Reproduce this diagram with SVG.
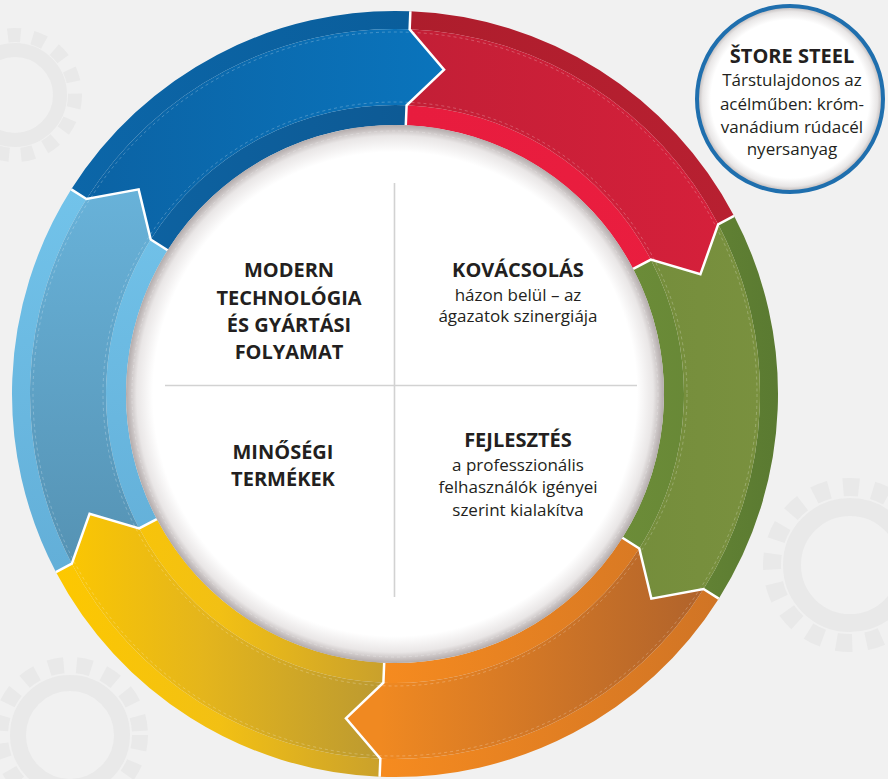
<svg xmlns="http://www.w3.org/2000/svg" width="888" height="779" viewBox="0 0 888 779">
<defs>
<style>
.bold{font-family:"Open Sans","Liberation Sans",sans-serif;font-weight:700;font-size:20px;fill:#231f20;text-anchor:middle}
.reg{font-family:"Open Sans","Liberation Sans",sans-serif;font-weight:400;font-size:17px;fill:#231f20;text-anchor:middle}
.cut{fill:none;stroke:#ffffff;stroke-width:2.5;stroke-linejoin:miter}
.dash{fill:none;stroke:#ffffff;stroke-opacity:0.3;stroke-width:0.8;stroke-dasharray:3 3}
.gear{fill:none;stroke:#e9e9e9}
</style>
<linearGradient id="redOuter" gradientUnits="userSpaceOnUse" x1="405" y1="0" x2="735" y2="0"><stop offset="0" stop-color="#ad1d2c"/><stop offset="1" stop-color="#b82031"/></linearGradient>
<linearGradient id="redMain" gradientUnits="userSpaceOnUse" x1="405" y1="0" x2="735" y2="0"><stop offset="0" stop-color="#c21f36"/><stop offset="1" stop-color="#d6203b"/></linearGradient>
<linearGradient id="redInner" gradientUnits="userSpaceOnUse" x1="405" y1="0" x2="735" y2="0"><stop offset="0" stop-color="#e81c3e"/><stop offset="1" stop-color="#ea1e3f"/></linearGradient>
<linearGradient id="greenOuter" gradientUnits="userSpaceOnUse" x1="620" y1="0" x2="780" y2="0"><stop offset="0" stop-color="#6a8a37"/><stop offset="1" stop-color="#5a7a31"/></linearGradient>
<linearGradient id="greenMain" gradientUnits="userSpaceOnUse" x1="620" y1="0" x2="780" y2="0"><stop offset="0" stop-color="#748d3b"/><stop offset="1" stop-color="#7a913f"/></linearGradient>
<linearGradient id="greenInner" gradientUnits="userSpaceOnUse" x1="620" y1="0" x2="780" y2="0"><stop offset="0" stop-color="#6c8c38"/><stop offset="1" stop-color="#638435"/></linearGradient>
<linearGradient id="orangeStrip" gradientUnits="userSpaceOnUse" x1="380" y1="0" x2="720" y2="0"><stop offset="0" stop-color="#f68b1f"/><stop offset="1" stop-color="#d07425"/></linearGradient>
<linearGradient id="orangeMain" gradientUnits="userSpaceOnUse" x1="380" y1="0" x2="720" y2="0"><stop offset="0" stop-color="#f08921"/><stop offset="1" stop-color="#ad612c"/></linearGradient>
<linearGradient id="yellowStrip" gradientUnits="userSpaceOnUse" x1="55" y1="0" x2="385" y2="0"><stop offset="0" stop-color="#fdc800"/><stop offset="0.5" stop-color="#f2c014"/><stop offset="1" stop-color="#c9a02c"/></linearGradient>
<linearGradient id="yellowMain" gradientUnits="userSpaceOnUse" x1="55" y1="0" x2="385" y2="0"><stop offset="0" stop-color="#fdc800"/><stop offset="0.45" stop-color="#e4b51c"/><stop offset="1" stop-color="#bb9931"/></linearGradient>
<linearGradient id="lblueStrip" gradientUnits="userSpaceOnUse" x1="0" y1="190" x2="0" y2="570"><stop offset="0" stop-color="#72c3ea"/><stop offset="1" stop-color="#63afd8"/></linearGradient>
<linearGradient id="lblueMain" gradientUnits="userSpaceOnUse" x1="0" y1="190" x2="0" y2="570"><stop offset="0" stop-color="#68b2d9"/><stop offset="1" stop-color="#5592b3"/></linearGradient>
<linearGradient id="dblueOuter" gradientUnits="userSpaceOnUse" x1="70" y1="0" x2="445" y2="0"><stop offset="0" stop-color="#0c66a8"/><stop offset="1" stop-color="#0a5d9a"/></linearGradient>
<linearGradient id="dblueMain" gradientUnits="userSpaceOnUse" x1="70" y1="0" x2="445" y2="0"><stop offset="0" stop-color="#0b62a3"/><stop offset="1" stop-color="#0a74bc"/></linearGradient>
<linearGradient id="dblueInner" gradientUnits="userSpaceOnUse" x1="70" y1="0" x2="445" y2="0"><stop offset="0" stop-color="#0d64a4"/><stop offset="1" stop-color="#0d5993"/></linearGradient>
<radialGradient id="innerDisc" gradientUnits="userSpaceOnUse" cx="395" cy="394" r="269"><stop offset="0" stop-color="#ffffff"/><stop offset="0.9" stop-color="#ffffff"/><stop offset="0.96" stop-color="#e9e6e6"/><stop offset="1" stop-color="#b3abab"/></radialGradient>
<radialGradient id="badge" gradientUnits="userSpaceOnUse" cx="790" cy="99" r="92"><stop offset="0" stop-color="#ffffff"/><stop offset="0.86" stop-color="#ffffff"/><stop offset="0.95" stop-color="#e8e6e6"/><stop offset="1" stop-color="#bfb9b9"/></radialGradient>
</defs>

<rect x="0" y="0" width="888" height="779" fill="#f1f1f1"/>

<g id="background-gears">
<circle class="gear" cx="850" cy="565" r="78" stroke-width="18" stroke-dasharray="16 14"/>
<circle class="gear" cx="850" cy="565" r="58" stroke-width="18"/>
<circle class="gear" cx="70" cy="735" r="70" stroke-width="16" stroke-dasharray="15 13"/>
<circle class="gear" cx="70" cy="735" r="52" stroke-width="16"/>
<circle class="gear" cx="15" cy="95" r="60" stroke-width="14" stroke-dasharray="13 12"/>
<circle class="gear" cx="15" cy="95" r="45" stroke-width="14"/>
</g>

<g id="seg-red">
<path fill="url(#redOuter)" d="M410.37,11.31 A383,383 0 0 1 734.10,215.96 L718.17,224.33 A365,365 0 0 0 409.65,29.30 Z"/>
<path fill="url(#redInner)" d="M406.60,105.23 A289,289 0 0 1 650.88,259.66 L633.17,268.96 A269,269 0 0 0 405.80,125.22 Z"/>
<path fill="url(#redMain)" d="M409.65,29.30 A365,365 0 0 1 718.17,224.33 L700.40,274.31 L650.88,259.66 A289,289 0 0 0 406.60,105.23 L444.05,69.69 Z"/>
</g>
<g id="seg-green">
<path fill="url(#greenOuter)" d="M734.10,215.96 A383,383 0 0 1 718.74,598.66 L703.53,589.04 A365,365 0 0 0 718.17,224.33 Z"/>
<path fill="url(#greenInner)" d="M650.88,259.66 A289,289 0 0 1 639.29,548.43 L622.38,537.74 A269,269 0 0 0 633.17,268.96 Z"/>
<path fill="url(#greenMain)" d="M718.17,224.33 A365,365 0 0 1 703.53,589.04 L651.35,598.64 L639.29,548.43 A289,289 0 0 0 650.88,259.66 L700.40,274.31 Z"/>
</g>
<g id="seg-orange">
<path fill="url(#orangeStrip)" d="M718.74,598.66 A383,383 0 0 1 379.63,776.69 L380.35,758.70 A365,365 0 0 0 703.53,589.04 Z"/>
<path fill="url(#orangeStrip)" d="M639.29,548.43 A289,289 0 0 1 383.40,682.77 L384.20,662.78 A269,269 0 0 0 622.38,537.74 Z"/>
<path fill="url(#orangeMain)" d="M703.53,589.04 A365,365 0 0 1 380.35,758.70 L345.95,718.31 L383.40,682.77 A289,289 0 0 0 639.29,548.43 L651.35,598.64 Z"/>
</g>
<g id="seg-yellow">
<path fill="url(#yellowStrip)" d="M379.63,776.69 A383,383 0 0 1 55.90,572.04 L71.83,563.67 A365,365 0 0 0 380.35,758.70 Z"/>
<path fill="url(#yellowStrip)" d="M383.40,682.77 A289,289 0 0 1 139.12,528.34 L156.83,519.04 A269,269 0 0 0 384.20,662.78 Z"/>
<path fill="url(#yellowMain)" d="M380.35,758.70 A365,365 0 0 1 71.83,563.67 L89.60,513.69 L139.12,528.34 A289,289 0 0 0 383.40,682.77 L345.95,718.31 Z"/>
</g>
<g id="seg-lightblue">
<path fill="url(#lblueStrip)" d="M55.90,572.04 A383,383 0 0 1 71.26,189.34 L86.47,198.96 A365,365 0 0 0 71.83,563.67 Z"/>
<path fill="url(#lblueStrip)" d="M139.12,528.34 A289,289 0 0 1 150.71,239.57 L167.62,250.26 A269,269 0 0 0 156.83,519.04 Z"/>
<path fill="url(#lblueMain)" d="M71.83,563.67 A365,365 0 0 1 86.47,198.96 L138.65,189.36 L150.71,239.57 A289,289 0 0 0 139.12,528.34 L89.60,513.69 Z"/>
</g>
<g id="seg-darkblue">
<path fill="url(#dblueOuter)" d="M71.26,189.34 A383,383 0 0 1 410.37,11.31 L409.65,29.30 A365,365 0 0 0 86.47,198.96 Z"/>
<path fill="url(#dblueInner)" d="M150.71,239.57 A289,289 0 0 1 406.60,105.23 L405.80,125.22 A269,269 0 0 0 167.62,250.26 Z"/>
<path fill="url(#dblueMain)" d="M86.47,198.96 A365,365 0 0 1 409.65,29.30 L444.05,69.69 L406.60,105.23 A289,289 0 0 0 150.71,239.57 L138.65,189.36 Z"/>
</g>

<g id="ring-lines">
<circle class="dash" cx="395" cy="394" r="362"/>
<circle class="dash" cx="395" cy="394" r="292"/>
</g>

<g id="connectors">
<path class="cut" d="M410.37,11.31 L409.65,29.30 L444.05,69.69 L406.60,105.23 L405.80,125.22"/>
<path class="cut" d="M734.10,215.96 L718.17,224.33 L700.40,274.31 L650.88,259.66 L633.17,268.96"/>
<path class="cut" d="M718.74,598.66 L703.53,589.04 L651.35,598.64 L639.29,548.43 L622.38,537.74"/>
<path class="cut" d="M379.63,776.69 L380.35,758.70 L345.95,718.31 L383.40,682.77 L384.20,662.78"/>
<path class="cut" d="M55.90,572.04 L71.83,563.67 L89.60,513.69 L139.12,528.34 L156.83,519.04"/>
<path class="cut" d="M71.26,189.34 L86.47,198.96 L138.65,189.36 L150.71,239.57 L167.62,250.26"/>
</g>

<g id="center">
<circle cx="395" cy="394" r="269" fill="url(#innerDisc)"/>
<circle cx="395" cy="394" r="263" fill="none" stroke="#dedada" stroke-width="0.8" stroke-dasharray="3 3"/>
<line x1="394.5" y1="183" x2="394.5" y2="597" stroke="#d2d2d2" stroke-width="1.6"/>
<line x1="165" y1="385.5" x2="637" y2="385.5" stroke="#d2d2d2" stroke-width="1.6"/>
</g>

<g id="q-modern">
<text class="bold" x="289" y="277">MODERN</text>
<text class="bold" x="289" y="304.5">TECHNOLÓGIA</text>
<text class="bold" x="289" y="332">ÉS GYÁRTÁSI</text>
<text class="bold" x="289" y="359">FOLYAMAT</text>
</g>
<g id="q-kovacsolas">
<text class="bold" x="518" y="277">KOVÁCSOLÁS</text>
<text class="reg" x="518" y="301">házon belül – az</text>
<text class="reg" x="518" y="322">ágazatok szinergiája</text>
</g>
<g id="q-minosegi">
<text class="bold" x="283" y="459">MINŐSÉGI</text>
<text class="bold" x="283" y="486">TERMÉKEK</text>
</g>
<g id="q-fejlesztes">
<text class="bold" x="518" y="447">FEJLESZTÉS</text>
<text class="reg" x="518" y="471">a professzionális</text>
<text class="reg" x="518" y="492.5">felhasználók igényei</text>
<text class="reg" x="518" y="515.5">szerint kialakítva</text>
</g>

<g id="store-steel">
<circle cx="790" cy="99" r="93" fill="url(#badge)" stroke="#1f6fae" stroke-width="4"/>
<text class="bold" x="792" y="63">ŠTORE STEEL</text>
<text class="reg" x="792" y="86">Társtulajdonos az</text>
<text class="reg" x="792" y="109.5">acélműben: króm-</text>
<text class="reg" x="792" y="132.5">vanádium rúdacél</text>
<text class="reg" x="792" y="154.5">nyersanyag</text>
</g>
</svg>
